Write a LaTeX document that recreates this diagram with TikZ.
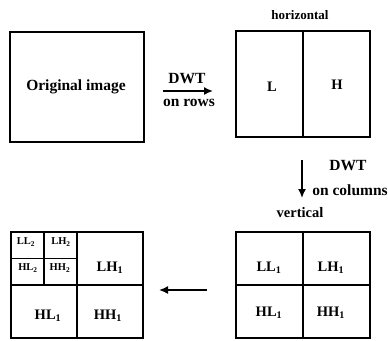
\documentclass[tikz,border=0pt]{standalone}
\usepackage{fontspec}
\setmainfont{Liberation Serif}
\usetikzlibrary{arrows.meta,calc}
\begin{document}
\begin{tikzpicture}[x=1pt,y=-1pt,
  box/.style={draw, line width=1.5pt, rectangle, inner sep=0pt, outer sep=0pt},
  big/.style={font=\bfseries\fontsize{15.5}{17}\selectfont, inner sep=0pt},
  mid/.style={font=\bfseries\fontsize{14.5}{16}\selectfont, inner sep=0pt},
  sml/.style={font=\bfseries\fontsize{10.5}{12}\selectfont, inner sep=0pt},
  div/.style={line width=1.5pt},
  arr/.style={line width=1.6pt, -{Latex[length=9pt,width=8pt]}}]
\useasboundingbox (0,0) rectangle (388,340);

% boxes
\node[box, minimum width=134pt, minimum height=110pt] (orig) at (77,87) {};
\node[box, minimum width=134pt, minimum height=106pt] (hbox) at (303,84) {};
\node[box, minimum width=134pt, minimum height=106pt] (vbox) at (303,285) {};
\node[box, minimum width=132pt, minimum height=106pt] (rbox) at (77,285) {};

% dividers
\draw[div] (hbox.north) -- (hbox.south);
\draw[div] (vbox.north) -- (vbox.south);
\draw[div] (vbox.west) -- (vbox.east);
\draw[div] (rbox.north) -- (rbox.south);
\draw[div] (rbox.west) -- (rbox.east);
\coordinate (qn) at ($(rbox.north west)!0.5!(rbox.north)$);
\coordinate (qc) at ($(rbox.west)!0.5!(rbox.center)$);
\coordinate (qw) at ($(rbox.north west)!0.5!(rbox.west)$);
\coordinate (qm) at ($(rbox.north)!0.5!(rbox.center)$);
\draw[div] (qn) -- (qc);
\draw[div] (qw) -- (qm);

% labels
\node[big] (tOrig) at (76,87) {Original image};
\node[big] (tHor) at (300,15) {\fontsize{13}{15}\selectfont horizontal};
\node[mid] (tL) at (272,87) {L};
\node[mid] (tH) at (337,85) {H};
\node[big] (tD1) at (187,79) {DWT};
\node[big] (tR1) at (189,103) {on rows};
\node[big] (tD2) at (348,166) {DWT};
\node[big] (tC2) at (350,190) {on columns};
\node[big] (tVer) at (300,213) {\fontsize{14.5}{16}\selectfont vertical};

\node[mid] (vLL) at (269,268) {LL\textsubscript{1}};
\node[mid] (vLH) at (331,268) {LH\textsubscript{1}};
\node[mid] (vHL) at (269,313) {HL\textsubscript{1}};
\node[mid] (vHH) at (331,313) {HH\textsubscript{1}};

\node[mid] (rLH) at (110,268) {LH\textsubscript{1}};
\node[mid] (rHL) at (48,316) {HL\textsubscript{1}};
\node[mid] (rHH) at (108,316) {HH\textsubscript{1}};
\node[sml] (rLL2) at (26,242) {LL\textsubscript{2}};
\node[sml] (rLH2) at (61,242) {LH\textsubscript{2}};
\node[sml] (rHL2) at (28,268) {HL\textsubscript{2}};
\node[sml] (rHH2) at (60,268) {HH\textsubscript{2}};

% arrows
\coordinate (a1s) at (163,91);
\coordinate (a1e) at (213,91);
\coordinate (a2s) at (302,160);
\coordinate (a2e) at (302,198);
\coordinate (a3s) at (207,290);
\coordinate (a3e) at (159,290);
\draw[arr] (a1s) -- (a1e);
\draw[arr] (a2s) -- (a2e);
\draw[arr] (a3s) -- (a3e);
\end{tikzpicture}
\end{document}
